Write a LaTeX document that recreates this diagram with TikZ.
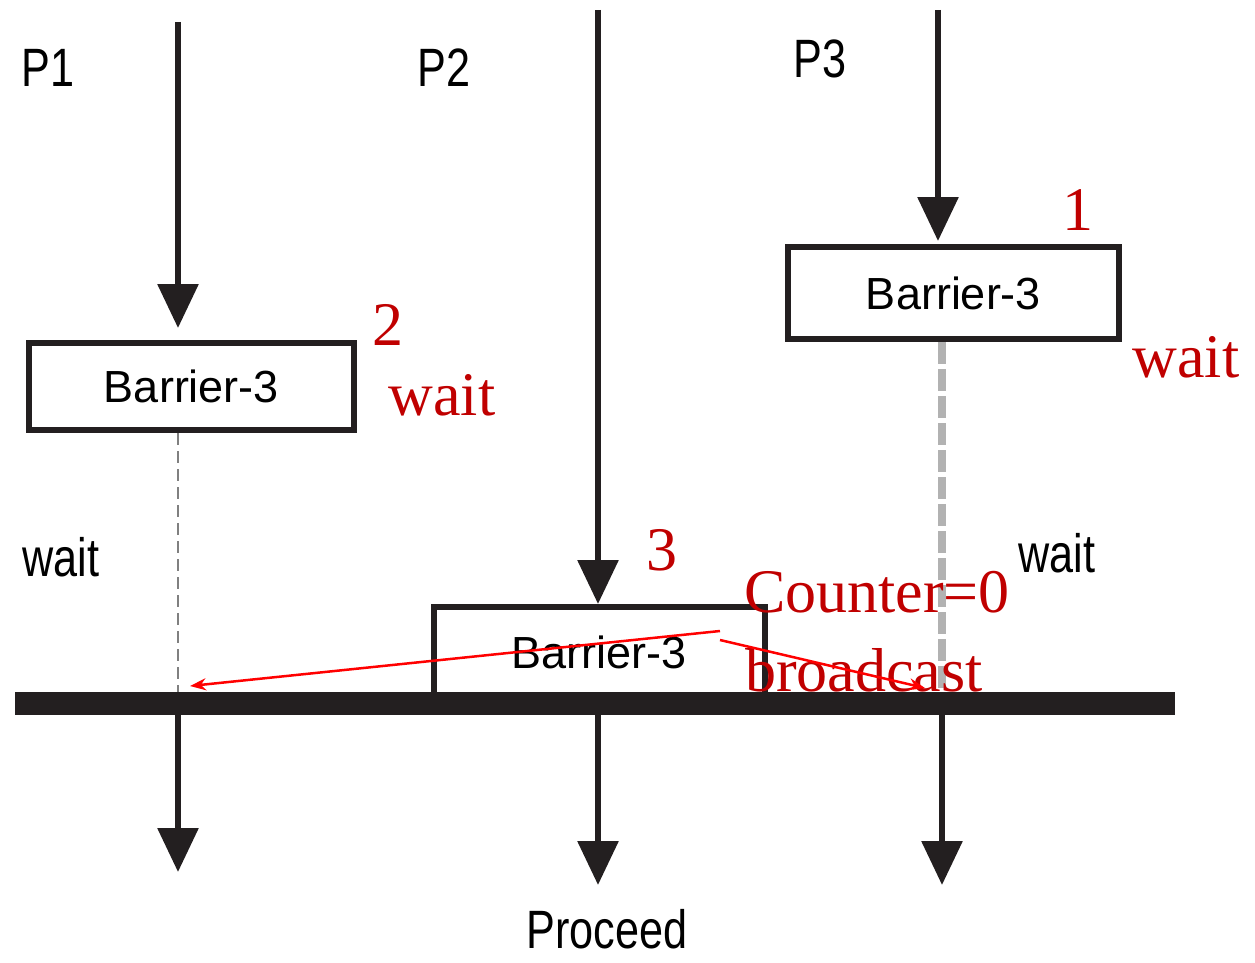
\documentclass[tikz,border=0pt]{standalone}
\usepackage{fontspec}
\setmainfont{Liberation Serif}
\setsansfont{Liberation Sans}
\newfontfamily\narrowsans[FakeStretch=0.8]{Liberation Sans}
\usetikzlibrary{arrows.meta}
\definecolor{ink}{RGB}{35,31,32}
\definecolor{notered}{RGB}{192,0,0}
\tikzset{
  proc/.style={ink, line width=6pt, -{Triangle[width=40pt,length=44pt]}},
  barrierbox/.style={draw=ink, line width=6pt, inner sep=0pt, fill=white,
    font=\sffamily\fontsize{45}{48}\selectfont},
  lbl/.style={font=\narrowsans\fontsize{54}{58}\selectfont},
  note/.style={text=notered, font=\fontsize{62}{66}\selectfont},
  waitline/.style={gray, line width=2.5pt, dash pattern=on 12pt off 6pt},
  wake/.style={draw=red, line width=2.5pt, -{Stealth[length=16pt,width=12pt]}}
}
\begin{document}
\begin{tikzpicture}[x=1pt,y=-1pt]
\useasboundingbox (0,0) rectangle (1255,963);

% process labels and start points
\node[lbl, anchor=base] (p1) at (48,87) {P1};
\node[lbl, anchor=base] (p2) at (444,87) {P2};
\node[lbl, anchor=base] (p3) at (820,78) {P3};
\coordinate (p1top) at (178,22);
\coordinate (p2top) at (598,10);
\coordinate (p3top) at (938,10);

% barrier calls
\node[barrierbox, minimum width=325pt, minimum height=87pt] (b1) at (191.5,386.5) {Barrier-3};
\node[barrierbox, minimum width=331pt, minimum height=92pt] (b3) at (953.5,293) {Barrier-3};
\node[barrierbox, minimum width=331pt, minimum height=90pt, text depth=-14pt] (b2) at (599,652) {Barrier-3};

% the barrier itself
\node[fill=ink, minimum width=1160pt, minimum height=23pt, inner sep=0pt] (bar) at (595,703.5) {};

\draw[proc] (p1top) -- ([yshift=12pt]p1top |- b1.north);
\draw[proc] (p2top) -- (p2top |- b2.north);
\draw[proc] (p3top) -- ([yshift=3pt]p3top |- b3.north);

% waiting
\draw[waitline] (p1top |- b1.south) -- (p1top |- bar.north);
\draw[gray!60, line width=8pt, dash pattern=on 22pt off 5pt] (942,342) -- (942,692);
\node[lbl, anchor=base] (w1) at (61,576) {wait};
\node[lbl, anchor=base] (w3) at (1057,572) {wait};

% after the barrier
\coordinate (p1end) at (178,872);
\coordinate (p2end) at (598,885);
\coordinate (p3end) at (942,885);
\draw[proc] (p1top |- bar.south) -- (p1end);
\draw[proc] (p2top |- bar.south) -- (p2end);
\draw[proc] (p3end |- bar.south) -- (p3end);
\node[lbl, anchor=base, inner sep=0pt] (go) at (607,948) {Proceed};

% arrival order and release
\node[note] (n1) at (1078,210) {1};
\node[note] (n2) at (388,325) {2};
\node[note] (nw2) at (442,395) {wait};
\node[note] (nw1) at (1186,357) {wait};
\node[note] (n3) at (662,550) {3};
\node[note] (cnt) at (877,592) {Counter=0};
\node[note] (bc) at (864,670) {broadcast};
\coordinate (sig) at (720,631);
\coordinate (rel1) at (190,686);
\coordinate (rel3) at (925,688);
\draw[wake] (sig) -- (rel1);
\draw[wake] ([yshift=-9pt]sig) -- (rel3);
\end{tikzpicture}
\end{document}
